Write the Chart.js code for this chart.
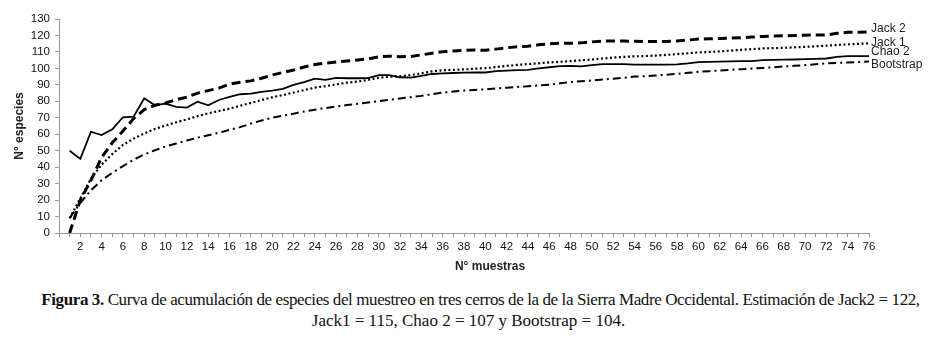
<!DOCTYPE html>
<html>
<head>
<meta charset="utf-8">
<script src="https://cdn.jsdelivr.net/npm/chart.js@4.4.1/dist/chart.umd.min.js"></script>
<style>
  body { margin: 0; background: #fff; }
  #wrap { position: relative; width: 933px; height: 280px; }
  .cap {
    position: absolute; left: 0; width: 933px;
    font-family: "Liberation Serif", "Times New Roman", serif;
    font-size: 17px; line-height: 21px; text-align: center; color: #111;
    white-space: nowrap;
  }
  #cap1 { top: 289px; left: 14px; letter-spacing: -0.4px; }
  #cap2 { top: 310px; left: 2px; }
</style>
</head>
<body>
<div id="wrap"><canvas id="chart"></canvas></div>
<div class="cap" id="cap1"><b>Figura 3.</b> Curva de acumulación de especies del muestreo en tres cerros de la de la Sierra Madre Occidental. Estimación de Jack2 = 122,</div>
<div class="cap" id="cap2">Jack1 = 115, Chao 2 = 107 y Bootstrap = 104.</div>
<script>
// N° muestras 1..76
const muestras = Array.from({ length: 76 }, (_, i) => i + 1);

// valores
const jack2 = [0, 20, 32, 46, 54.8, 62, 69.5, 75, 77.6, 79, 81, 82.5, 85, 86.5, 88, 90.5, 91.6, 92.4, 94, 96,
  97.5, 99, 100.8, 102.3, 103.2, 103.9, 104.5, 105.1, 105.8, 107, 107.4, 107.1, 107.2, 108.2, 109.2, 110.1, 110.6, 111, 111.1, 111,
  111.7, 112.5, 113.2, 113.5, 114.3, 114.9, 115.3, 115.2, 115.5, 116.1, 116.6, 116.7, 116.6, 116.5, 116.3, 116.3, 116.4, 116.6, 117.2, 117.8,
  118, 118.2, 118.4, 118.6, 119, 119.4, 119.6, 119.8, 120, 120.2, 120.3, 120.3, 121.3, 121.9, 122, 122.1];
const jack1 = [9, 21, 33, 41.5, 48, 53.5, 57.3, 60.5, 63.2, 65.3, 67.3, 69, 71, 72.7, 74.1, 75.6, 77.3, 79, 80.8, 82.4,
  83.8, 85.3, 86.8, 88.3, 89.2, 90.3, 91.3, 92, 93, 94.3, 94.9, 95.2, 95.9, 97, 98.2, 98.9, 99.1, 99.4, 99.8, 100.1,
  100.8, 101.5, 102.1, 102.6, 103.1, 103.6, 104, 104.4, 104.9, 105.4, 106, 106.6, 107, 107.3, 107.5, 107.8, 108.2, 108.7, 109.2, 109.7,
  110, 110.3, 110.8, 111.3, 111.7, 112.1, 112.3, 112.5, 112.8, 113.1, 113.4, 113.8, 114.2, 114.6, 114.9, 115.2];
const chao2 = [50, 45, 61.5, 59.5, 63, 70.3, 70.7, 81.9, 77.6, 78.6, 76.6, 76.2, 79.8, 77.6, 80.8, 82.7, 84.3, 84.7, 85.7, 86.5,
  87.5, 90, 91.6, 93.8, 93, 94.2, 94, 94, 94.1, 95.9, 95.9, 94.6, 94.4, 95.5, 96.6, 97, 97.2, 97.4, 97.5, 97.5,
  98.3, 98.7, 99, 99.1, 100, 100.7, 101.4, 101.5, 101.2, 102, 102.6, 102.6, 102.6, 102.3, 102.3, 102.3, 102.3, 102.4, 103, 103.8,
  104, 104.1, 104.3, 104.4, 104.4, 105, 105.2, 105.3, 105.4, 105.6, 105.8, 106, 107, 107.4, 107.5, 107.5];
const bootstrap = [9, 18.3, 26, 32, 36.6, 40.6, 44.5, 47.7, 50.3, 52.6, 54.4, 56.2, 57.9, 59.4, 60.9, 62.6, 64.3, 66.5, 68.3, 70,
  71.2, 72.5, 73.8, 74.9, 75.9, 76.9, 77.7, 78.5, 79.3, 80.1, 80.9, 81.7, 82.5, 83.3, 84.3, 85.3, 85.9, 86.5, 86.9, 87.3,
  87.8, 88.3, 88.7, 89.1, 89.6, 90.1, 90.9, 91.7, 92.2, 92.7, 93.2, 93.7, 94.3, 95, 95.3, 95.7, 96.2, 96.7, 97.3, 97.9,
  98.3, 98.7, 99.1, 99.5, 99.9, 100.3, 100.7, 101.2, 101.6, 102, 102.5, 103, 103.3, 103.6, 103.9, 104.2];

const seriesNames = ["Jack 2", "Jack 1", "Chao 2", "Bootstrap"];
const labelShift = [-3, -1, -4, 3];

const toPts = arr => arr.map((v, i) => ({ x: muestras[i], y: v }));
const sans = "'Liberation Sans', Arial, sans-serif";

// nombres al final de cada curva + titulos de ejes
const endLabels = {
  id: "endLabels",
  afterDraw(chart) {
    const ctx = chart.ctx;
    const area = chart.chartArea;
    const ys = chart.scales.y;
    ctx.save();
    ctx.fillStyle = "#222";
    ctx.font = "12px " + sans;
    ctx.textBaseline = "middle";
    chart.data.datasets.forEach((ds, i) => {
      const last = ds.data[ds.data.length - 1];
      ctx.fillText(seriesNames[i], area.right + 2, ys.getPixelForValue(last.y) + labelShift[i]);
    });
    ctx.font = "bold 12px " + sans;
    ctx.textAlign = "center";
    ctx.fillText("N° muestras", area.left + (area.right - area.left) / 2 + 26, 267);
    ctx.translate(20, (area.top + area.bottom) / 2);
    ctx.rotate(-Math.PI / 2);
    ctx.fillText("N° especies", 0, 0);
    ctx.restore();
  }
};

const ctx = document.getElementById("chart").getContext("2d");
new Chart(ctx, {
  type: "line",
  data: {
    datasets: [
      { label: seriesNames[0], data: toPts(jack2), borderColor: "#000", borderWidth: 3, borderDash: [9, 5] },
      { label: seriesNames[1], data: toPts(jack1), borderColor: "#000", borderWidth: 2.2, borderDash: [2, 2.5] },
      { label: seriesNames[2], data: toPts(chao2), borderColor: "#000", borderWidth: 1.8 },
      { label: seriesNames[3], data: toPts(bootstrap), borderColor: "#000", borderWidth: 2, borderDash: [8, 4, 2, 4] }
    ]
  },
  options: {
    responsive: true,
    maintainAspectRatio: false,
    animation: false,
    elements: { point: { radius: 0 }, line: { tension: 0, borderCapStyle: "butt" } },
    layout: { padding: { left: 0, right: 64, top: 19, bottom: 0 } },
    plugins: { legend: { display: false }, tooltip: { enabled: false } },
    scales: {
      x: {
        type: "linear", min: 0, max: 76,
        afterFit: s => { s.height = 280 - 233; },
        border: { display: true, color: "#999" },
        grid: { drawOnChartArea: false, drawTicks: true, tickLength: 4, color: "#999" },
        ticks: {
          stepSize: 1, autoSkip: false, maxRotation: 0, maxTicksLimit: 100, padding: 3,
          color: "#111", font: { size: 11.5, family: sans },
          callback: v => (v > 0 && v % 2 === 0) ? String(v) : ""
        }
      },
      y: {
        min: 0, max: 130,
        afterFit: s => { s.width = 59; },
        border: { display: true, color: "#999" },
        grid: { drawOnChartArea: false, drawTicks: true, tickLength: 4, color: "#999" },
        ticks: { stepSize: 10, autoSkip: false, padding: 5, color: "#111", font: { size: 11.5, family: sans } }
      }
    }
  },
  plugins: [endLabels]
});
</script>
</body>
</html>
